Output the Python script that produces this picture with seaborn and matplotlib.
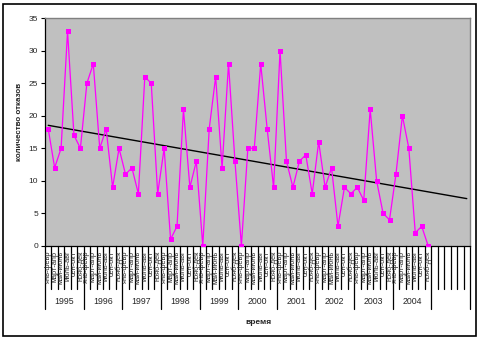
import numpy as np
import pandas as pd
import matplotlib
matplotlib.use("Agg")
import matplotlib.pyplot as plt
import matplotlib.transforms as mtransforms
from matplotlib.patches import Rectangle
import seaborn as sns

# ---- data ----
periods = ["янв-февр", "март-апр", "май-июнь", "июль-авг", "сен-окт", "нояб-дек"]
years = ["1995", "1996", "1997", "1998", "1999", "2000", "2001", "2002", "2003", "2004"]
failures = [18, 12, 15, 33, 17, 15,
            25, 28, 15, 18, 9, 15,
            11, 12, 8, 26, 25, 8,
            15, 1, 3, 21, 9, 13,
            0, 18, 26, 12, 28, 13,
            0, 15, 15, 28, 18, 9,
            30, 13, 9, 13, 14, 8,
            16, 9, 12, 3, 9, 8,
            9, 7, 21, 10, 5, 4,
            11, 20, 15, 2, 3, 0]
forecast_periods = 6
y_label = "количество отказов"
x_label = "время"

sns.set_style("white")
plt.rcParams["font.family"] = ["Liberation Sans", "DejaVu Sans"]

W, H = 481, 339
fig = plt.figure(figsize=(W / 100, H / 100), dpi=100)

# plot-area geometry (pixels)
L, R, T, B = 45, 470, 18.3, 245.8
ax = fig.add_axes([L / W, 1 - B / H, (R - L) / W, (B - T) / H])
ax.set_facecolor("#C0C0C0")

n = len(failures)
ncat = n + forecast_periods
df = pd.DataFrame({"idx": np.arange(n), "val": failures})

# trend line (linear, forecast forward)
coef = np.polyfit(df["idx"], df["val"], 1)
xt = np.arange(ncat)
ax.plot(xt, np.polyval(coef, xt), color="black", lw=1.0, zorder=2)

sns.lineplot(data=df, x="idx", y="val", ax=ax, color="#FF00FF", lw=0.9,
             marker="s", markersize=3.6, markeredgewidth=0,
             markerfacecolor="#FF00FF", zorder=3)

ax.set_xlim(-0.5, ncat - 0.5)
ax.set_ylim(0, 35)
ax.set_yticks(np.arange(0, 36, 5))
ax.tick_params(axis="y", direction="out", length=3, width=0.8, color="black",
               labelsize=6, pad=2, left=True)
ax.set_xticks([])
ax.set_xlabel("")
ax.set_ylabel("")
for s in ["left", "bottom"]:
    ax.spines[s].set_color("black")
    ax.spines[s].set_linewidth(0.9)
for s in ["top", "right"]:
    ax.spines[s].set_color("#808080")
    ax.spines[s].set_linewidth(1.0)

# multi-level category axis
trans = mtransforms.blended_transform_factory(ax.transData, ax.transAxes)
ph = B - T
short_y = -(289 - B) / ph
long_y = -(309 - B) / ph
for k in range(ncat + 1):
    is_long = (k % len(periods) == 0 and k <= n) or k == ncat
    ax.plot([k - 0.5, k - 0.5], [0, long_y if is_long else short_y],
            transform=trans, color="black", lw=0.9, clip_on=False)

lab_y = -(250.5 - B) / ph
for i in range(n):
    ax.text(i, lab_y, periods[i % len(periods)], transform=trans, rotation=90,
            ha="center", va="top", fontsize=5.3, clip_on=False)

year_y = -(302 - B) / ph
for j, yr in enumerate(years):
    xc = j * len(periods) + (len(periods) - 1) / 2
    ax.text(xc, year_y, yr, transform=trans, ha="center", va="center",
            fontsize=6.3, clip_on=False)

fig.text(258 / W, 1 - 322 / H, x_label, ha="center", va="center",
         fontsize=6, fontweight="bold")
fig.text(20 / W, 1 - 122 / H, y_label, ha="center", va="center",
         rotation=90, fontsize=5.8, fontweight="bold")

# chart border
fig.patches.append(Rectangle((2.5 / W, 1 - 335.5 / H), 474 / W, 332 / H,
                             transform=fig.transFigure, fill=False,
                             edgecolor="black", lw=1.2))

fig.savefig("out.png", dpi=100)
